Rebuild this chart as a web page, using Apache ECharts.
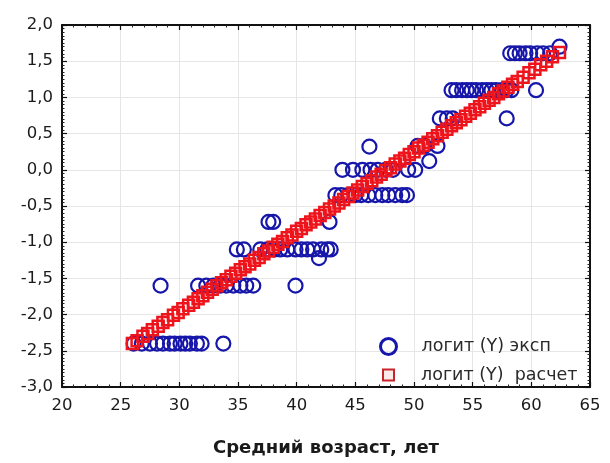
<!DOCTYPE html>
<html>
<head>
<meta charset="utf-8">
<script src="https://cdn.jsdelivr.net/npm/echarts@6/dist/echarts.min.js"></script>
<style>
  html, body { margin: 0; padding: 0; background: #fff; }
  #chart { width: 610px; height: 463px; }
</style>
</head>
<body>
<div id="chart"></div>
<script>
// Observed logit values by mean age (blue rings)
const expAge = [
  26.1, 26.8, 27.5, 28.1, 28.6, 29.2, 29.6, 30.1, 30.5, 30.9, 31.5, 31.9, 33.75,
  28.4, 31.6, 32.3, 32.9, 33.5, 34.0, 34.6, 35.2, 35.7, 36.3, 39.9,
  34.9, 35.5, 36.9, 37.5, 38.1, 38.6, 39.2, 39.9, 40.4, 40.9, 41.4, 42.1, 42.6, 42.9, 41.9,
  37.6, 38.0, 42.8,
  43.3, 43.8, 44.4, 45.0, 45.5, 46.1, 46.7, 47.3, 47.8, 48.4, 49.0, 49.4,
  43.9, 44.8, 45.6, 46.3, 46.9, 47.6, 48.2, 49.5, 50.1,
  46.2, 51.3,
  50.3, 50.9, 52.0,
  52.2, 52.8, 53.3, 57.9,
  53.2, 53.6, 54.1, 54.5, 54.9, 55.3, 55.8, 56.2, 56.6, 57.0, 57.5, 57.9, 58.3, 60.4,
  58.2, 58.6, 59.0, 59.5, 59.9, 60.5, 61.0, 61.6,
  62.4
];
const expLogit = [
  -2.4, -2.4, -2.4, -2.4, -2.4, -2.4, -2.4, -2.4, -2.4, -2.4, -2.4, -2.4, -2.4,
  -1.6, -1.6, -1.6, -1.6, -1.6, -1.6, -1.6, -1.6, -1.6, -1.6, -1.6,
  -1.1, -1.1, -1.1, -1.1, -1.1, -1.1, -1.1, -1.1, -1.1, -1.1, -1.1, -1.1, -1.1, -1.1, -1.22,
  -0.72, -0.72, -0.72,
  -0.35, -0.35, -0.35, -0.35, -0.35, -0.35, -0.35, -0.35, -0.35, -0.35, -0.35, -0.35,
  0.0, 0.0, 0.0, 0.0, 0.0, 0.0, 0.0, 0.0, 0.0,
  0.32, 0.12,
  0.33, 0.33, 0.33,
  0.71, 0.71, 0.71, 0.71,
  1.1, 1.1, 1.1, 1.1, 1.1, 1.1, 1.1, 1.1, 1.1, 1.1, 1.1, 1.1, 1.1, 1.1,
  1.61, 1.61, 1.61, 1.61, 1.61, 1.61, 1.61, 1.61,
  1.70
];

// Model (calculated) logit values (red squares)
const calcAge = [
  26.0, 26.4, 26.9, 27.3, 27.7, 28.2, 28.6, 29.0, 29.5, 29.9, 30.3, 30.8, 31.2, 31.6,
  32.0, 32.4, 32.8, 33.2, 33.6, 34.0, 34.4, 34.8, 35.2, 35.6, 36.0, 36.4, 36.8, 37.2,
  37.6, 38.0, 38.4, 38.8, 39.2, 39.6, 40.0, 40.4, 40.8, 41.2, 41.6, 42.0, 42.4, 42.8,
  43.2, 43.6, 44.0, 44.4, 44.8, 45.2, 45.6, 46.0, 46.4, 46.8, 47.2, 47.6, 48.0, 48.4,
  48.8, 49.2, 49.6, 50.0, 50.4, 50.8, 51.2, 51.6, 52.0, 52.4, 52.8, 53.2, 53.6, 54.0,
  54.4, 54.8, 55.2, 55.6, 56.0, 56.4, 56.8, 57.2, 57.6, 58.0, 58.4, 58.8, 59.3, 59.8,
  60.3, 60.8, 61.3, 61.8, 62.4
];
const calcLogit = [
  -2.40, -2.36, -2.30, -2.26, -2.21, -2.16, -2.11, -2.07, -2.01, -1.97, -1.92, -1.87, -1.83, -1.78,
  -1.74, -1.69, -1.65, -1.60, -1.56, -1.52, -1.47, -1.43, -1.38, -1.34, -1.30, -1.25, -1.21, -1.16,
  -1.12, -1.07, -1.03, -0.99, -0.94, -0.90, -0.85, -0.81, -0.76, -0.72, -0.68, -0.63, -0.59, -0.54,
  -0.50, -0.46, -0.41, -0.37, -0.32, -0.28, -0.23, -0.19, -0.15, -0.10, -0.06, -0.01, 0.03, 0.08,
  0.12, 0.16, 0.21, 0.25, 0.30, 0.34, 0.38, 0.43, 0.47, 0.52, 0.56, 0.61, 0.65, 0.69,
  0.74, 0.78, 0.83, 0.87, 0.92, 0.96, 1.00, 1.05, 1.09, 1.14, 1.18, 1.22, 1.28, 1.34,
  1.39, 1.45, 1.50, 1.56, 1.62
];

const seriesNames = ['логит (Y) эксп', 'логит (Y)  расчет'];
const axisTitleX = 'Средний возраст, лет';

const blue = '#1616aa';
const red = '#ee141c';
const fontFamily = '"DejaVu Sans", "Liberation Sans", Arial, sans-serif';

const commaFmt = v => v.toFixed(1).replace('.', ',');
const zip = (a, b) => a.map((v, i) => [v, b[i]]);

const frameLine = { show: true, onZero: false, lineStyle: { color: '#111', width: 2 } };
const innerTick = { show: true, inside: true, length: 5, lineStyle: { color: '#111', width: 1.2 } };
const innerMinor = (n) => ({ show: true, splitNumber: n, length: 2.5, lineStyle: { color: '#222', width: 1 } });
const legendText = (padLeft) => ({ color: '#2a2a2a', fontSize: 17.5, fontFamily, padding: [0, 0, 0, padLeft] });

const chart = echarts.init(document.getElementById('chart'), null, { renderer: 'canvas' });
chart.setOption({
  backgroundColor: '#fff',
  animation: false,
  grid: { left: 62, right: 20, top: 25, bottom: 76, containLabel: false },
  xAxis: [
    {
      type: 'value', min: 20, max: 65, interval: 5, position: 'bottom',
      axisLine: frameLine, axisTick: innerTick, minorTick: innerMinor(5),
      axisLabel: { color: '#1a1a1a', fontSize: 16.5, margin: 10, fontFamily },
      splitLine: { show: true, lineStyle: { color: '#e6e6e6', width: 1 } },
      name: axisTitleX, nameLocation: 'middle', nameGap: 52,
      nameTextStyle: { color: '#1a1a1a', fontSize: 18, fontWeight: 'bold', fontFamily }
    },
    {
      type: 'value', min: 20, max: 65, interval: 5, position: 'top',
      axisLine: frameLine, axisTick: innerTick, minorTick: innerMinor(5),
      axisLabel: { show: false }, splitLine: { show: false }
    }
  ],
  yAxis: [
    {
      type: 'value', min: -3, max: 2, interval: 0.5, position: 'left',
      axisLine: frameLine, axisTick: innerTick, minorTick: innerMinor(10),
      axisLabel: { color: '#1a1a1a', fontSize: 16.5, margin: 9, fontFamily, formatter: commaFmt },
      splitLine: { show: true, lineStyle: { color: '#e6e6e6', width: 1 } }
    },
    {
      type: 'value', min: -3, max: 2, interval: 0.5, position: 'right',
      axisLine: frameLine, axisTick: innerTick, minorTick: innerMinor(10),
      axisLabel: { show: false }, splitLine: { show: false }
    }
  ],
  legend: [
    {
      left: 374, top: 332, itemWidth: 16, itemHeight: 16,
      textStyle: legendText(20),
      data: [{ name: seriesNames[0], icon: 'circle',
        itemStyle: { color: 'transparent', borderColor: blue, borderWidth: 3 } }]
    },
    {
      left: 377, top: 361, itemWidth: 11, itemHeight: 11,
      textStyle: legendText(22),
      data: [{ name: seriesNames[1], icon: 'rect',
        itemStyle: { color: '#fbeaea', borderColor: '#c8242b', borderWidth: 2 } }]
    }
  ],
  series: [
    {
      name: seriesNames[0], type: 'scatter', symbol: 'circle', symbolSize: 14,
      data: zip(expAge, expLogit),
      itemStyle: { color: 'transparent', borderColor: blue, borderWidth: 2.2, opacity: 1 },
      z: 2
    },
    {
      name: seriesNames[1], type: 'scatter', symbol: 'rect', symbolSize: 11,
      data: zip(calcAge, calcLogit),
      itemStyle: { color: 'transparent', borderColor: red, borderWidth: 2.5, opacity: 1 },
      z: 3
    }
  ]
});
</script>
</body>
</html>
